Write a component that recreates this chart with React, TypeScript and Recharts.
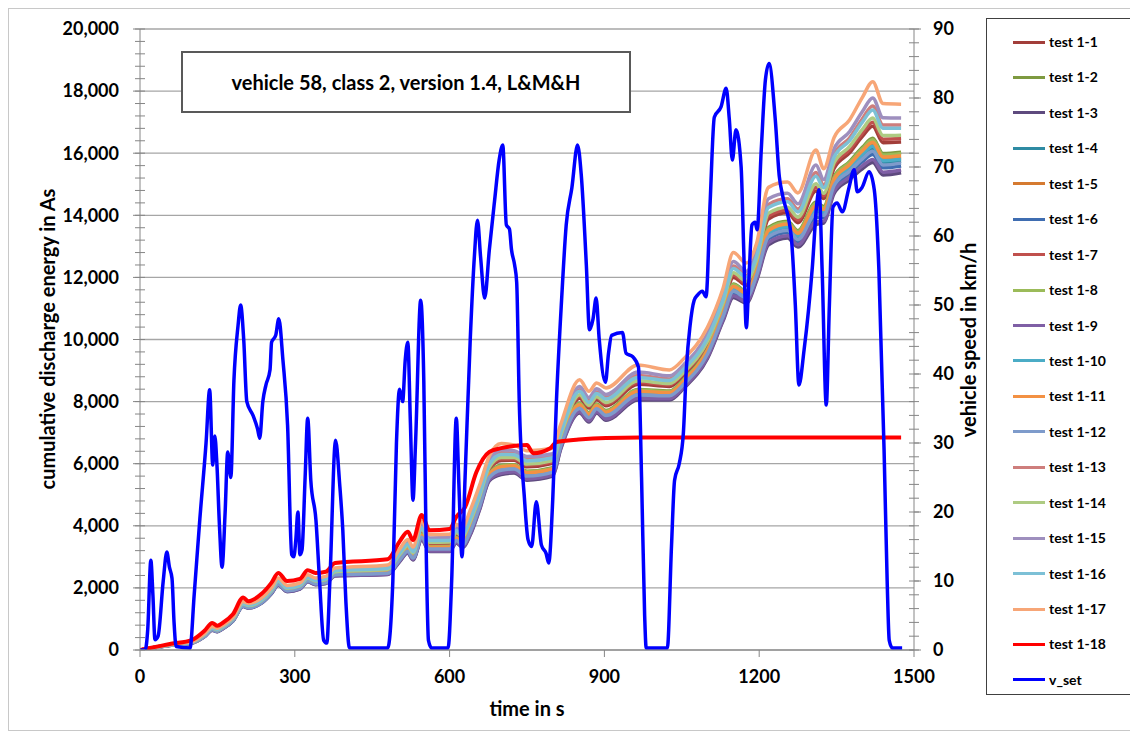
import { LineChart, Line, XAxis, YAxis, CartesianGrid } from 'recharts'

const FONT = 'Lato, "Open Sans", sans-serif'
const AXIS = '#868686'
const GRID = '#a6a6a6'

const W = 1125
const H = 721

// time grid shared by test 1-1 .. 1-17 (s)
const TIME_E = [0, 60, 100, 125, 140, 150, 160, 180, 200, 210, 235, 255, 268, 285, 310, 325, 340, 360, 378, 480, 503, 519, 529, 546, 561, 600, 613, 625, 640, 658, 677, 700, 725, 750, 800, 815, 852, 870, 885, 903, 965, 1026, 1055, 1100, 1130, 1150, 1175, 1195, 1218, 1255, 1275, 1310, 1325, 1345, 1375, 1400, 1420, 1440, 1475]

// cumulative discharge energy (As)
const test1_1 = [0, 160, 240, 480, 690, 640, 730, 980, 1470, 1420, 1580, 1910, 2190, 1970, 2050, 2300, 2200, 2240, 2500, 2570, 3020, 3320, 3090, 3810, 3420, 3420, 3720, 3590, 4060, 4870, 5810, 6100, 6110, 5900, 6010, 6810, 8110, 7790, 8070, 7870, 8560, 8490, 8880, 9850, 11070, 12000, 11750, 12440, 13880, 14080, 13760, 14780, 14540, 15510, 16010, 16540, 16870, 16340, 16360]
const test1_2 = [0, 160, 240, 460, 680, 620, 710, 970, 1450, 1400, 1550, 1880, 2160, 1940, 2020, 2270, 2170, 2210, 2460, 2520, 2960, 3250, 3030, 3720, 3340, 3340, 3630, 3500, 3940, 4750, 5690, 5950, 5970, 5760, 5870, 6690, 7950, 7640, 7920, 7710, 8390, 8340, 8740, 9700, 10920, 11790, 11560, 12260, 13610, 13810, 13500, 14420, 14280, 15240, 15730, 16190, 16480, 15990, 16030]
const test1_3 = [0, 150, 220, 430, 640, 590, 680, 930, 1400, 1350, 1500, 1820, 2090, 1880, 1960, 2200, 2100, 2140, 2380, 2430, 2840, 3120, 2900, 3540, 3170, 3170, 3450, 3300, 3700, 4510, 5450, 5650, 5700, 5470, 5600, 6450, 7630, 7340, 7630, 7400, 8050, 8050, 8450, 9400, 10600, 11350, 11170, 11900, 13050, 13270, 12980, 13700, 13750, 14700, 15150, 15500, 15700, 15300, 15370]
const test1_4 = [0, 160, 230, 450, 660, 610, 700, 950, 1430, 1380, 1530, 1850, 2130, 1910, 1990, 2240, 2140, 2180, 2420, 2480, 2910, 3190, 2970, 3640, 3260, 3270, 3550, 3410, 3840, 4640, 5590, 5820, 5850, 5630, 5750, 6590, 7810, 7510, 7790, 7580, 8240, 8210, 8610, 9570, 10780, 11600, 11390, 12100, 13360, 13580, 13280, 14110, 14050, 15010, 15480, 15890, 16140, 15690, 15740]
const test1_5 = [0, 160, 230, 450, 670, 610, 700, 960, 1440, 1380, 1540, 1860, 2140, 1920, 2000, 2250, 2150, 2190, 2440, 2500, 2930, 3220, 2990, 3670, 3290, 3290, 3580, 3440, 3880, 4680, 5630, 5870, 5900, 5680, 5800, 6630, 7870, 7560, 7840, 7630, 8300, 8260, 8660, 9620, 10830, 11670, 11450, 12160, 13460, 13670, 13360, 14230, 14140, 15100, 15570, 16010, 16270, 15810, 15860]
const test1_6 = [0, 150, 230, 440, 650, 600, 690, 940, 1420, 1370, 1520, 1840, 2110, 1900, 1980, 2220, 2120, 2160, 2410, 2460, 2880, 3160, 2940, 3600, 3230, 3230, 3510, 3370, 3780, 4590, 5530, 5750, 5790, 5570, 5690, 6530, 7740, 7440, 7730, 7500, 8160, 8150, 8550, 9500, 10710, 11500, 11300, 12020, 13240, 13450, 13150, 13940, 13930, 14880, 15340, 15730, 15960, 15530, 15590]
const test1_7 = [0, 170, 250, 480, 700, 650, 740, 990, 1480, 1430, 1590, 1920, 2210, 1980, 2060, 2310, 2210, 2260, 2510, 2590, 3050, 3340, 3110, 3850, 3450, 3450, 3750, 3630, 4100, 4910, 5850, 6150, 6150, 5950, 6050, 6850, 8170, 7840, 8120, 7920, 8620, 8540, 8930, 9900, 11130, 12080, 11820, 12500, 13980, 14170, 13850, 14900, 14630, 15600, 16110, 16650, 17000, 16450, 16470]
const test1_8 = [0, 160, 230, 460, 670, 620, 710, 960, 1440, 1390, 1550, 1870, 2150, 1940, 2020, 2260, 2160, 2200, 2450, 2520, 2950, 3240, 3020, 3710, 3320, 3330, 3620, 3480, 3920, 4730, 5670, 5930, 5950, 5740, 5850, 6670, 7930, 7620, 7900, 7690, 8370, 8320, 8720, 9680, 10890, 11760, 11530, 12240, 13570, 13770, 13470, 14370, 14240, 15200, 15690, 16140, 16430, 15940, 15990]
const test1_9 = [0, 150, 220, 430, 640, 590, 680, 930, 1410, 1360, 1510, 1830, 2100, 1890, 1970, 2210, 2110, 2150, 2390, 2440, 2860, 3140, 2920, 3560, 3190, 3190, 3470, 3330, 3730, 4540, 5480, 5690, 5740, 5510, 5640, 6480, 7670, 7380, 7670, 7440, 8100, 8090, 8490, 9440, 10640, 11410, 11220, 11950, 13120, 13340, 13050, 13800, 13820, 14770, 15230, 15590, 15800, 15390, 15460]
const test1_10 = [0, 160, 230, 450, 660, 610, 700, 950, 1430, 1380, 1530, 1860, 2140, 1920, 2000, 2240, 2140, 2190, 2430, 2490, 2920, 3210, 2980, 3660, 3280, 3280, 3570, 3430, 3860, 4670, 5610, 5850, 5880, 5660, 5780, 6610, 7840, 7540, 7820, 7610, 8280, 8240, 8640, 9600, 10810, 11640, 11430, 12140, 13420, 13630, 13330, 14180, 14100, 15060, 15530, 15960, 16220, 15760, 15810]
const test1_11 = [0, 160, 230, 460, 670, 620, 710, 960, 1440, 1390, 1540, 1870, 2150, 1930, 2010, 2260, 2160, 2200, 2450, 2510, 2940, 3230, 3010, 3690, 3310, 3310, 3600, 3460, 3900, 4710, 5650, 5900, 5930, 5710, 5830, 6650, 7900, 7590, 7870, 7660, 8330, 8290, 8690, 9650, 10860, 11710, 11490, 12200, 13510, 13720, 13420, 14300, 14190, 15150, 15630, 16080, 16350, 15880, 15920]
const test1_12 = [0, 150, 230, 440, 660, 610, 700, 950, 1420, 1370, 1520, 1850, 2120, 1910, 1990, 2230, 2130, 2170, 2420, 2470, 2900, 3180, 2960, 3630, 3250, 3250, 3530, 3390, 3810, 4620, 5560, 5790, 5830, 5600, 5730, 6560, 7780, 7480, 7770, 7550, 8210, 8190, 8580, 9540, 10750, 11550, 11350, 12070, 13310, 13520, 13220, 14040, 14000, 14950, 15420, 15820, 16060, 15620, 15680]
const test1_13 = [0, 170, 260, 500, 720, 670, 760, 1010, 1510, 1460, 1620, 1950, 2250, 2020, 2100, 2350, 2250, 2300, 2560, 2650, 3130, 3430, 3190, 3970, 3560, 3560, 3870, 3760, 4260, 5060, 6010, 6350, 6330, 6140, 6230, 7010, 8380, 8030, 8310, 8130, 8840, 8730, 9120, 10100, 11340, 12370, 12070, 12740, 14350, 14530, 14200, 15380, 14980, 15960, 16490, 17110, 17520, 16910, 16910]
const test1_14 = [0, 170, 250, 490, 710, 650, 740, 1000, 1490, 1430, 1590, 1920, 2220, 1990, 2070, 2320, 2220, 2270, 2520, 2600, 3070, 3360, 3130, 3880, 3470, 3480, 3780, 3660, 4140, 4940, 5890, 6200, 6200, 5990, 6100, 6890, 8220, 7880, 8160, 7970, 8670, 8580, 8970, 9950, 11180, 12150, 11880, 12560, 14070, 14260, 13940, 15020, 14710, 15690, 16210, 16770, 17130, 16570, 16580]
const test1_15 = [0, 170, 260, 510, 740, 680, 770, 1030, 1530, 1470, 1640, 1970, 2270, 2040, 2120, 2380, 2280, 2320, 2590, 2680, 3170, 3470, 3240, 4030, 3610, 3620, 3930, 3820, 4340, 5140, 6090, 6450, 6420, 6230, 6320, 7090, 8490, 8130, 8410, 8230, 8950, 8830, 9210, 10200, 11440, 12510, 12200, 12860, 14530, 14710, 14370, 15620, 15150, 16140, 16690, 17340, 17780, 17140, 17130]
const test1_16 = [0, 170, 250, 500, 720, 660, 750, 1010, 1500, 1450, 1610, 1940, 2240, 2010, 2090, 2340, 2240, 2290, 2550, 2630, 3110, 3410, 3170, 3940, 3530, 3530, 3840, 3720, 4220, 5020, 5970, 6300, 6290, 6090, 6190, 6970, 8330, 7980, 8260, 8080, 8780, 8680, 9070, 10050, 11280, 12290, 12010, 12680, 14250, 14440, 14110, 15260, 14890, 15870, 16400, 17000, 17390, 16800, 16800]
const test1_17 = [0, 180, 270, 530, 760, 700, 790, 1050, 1560, 1500, 1670, 2010, 2320, 2080, 2160, 2420, 2320, 2370, 2640, 2740, 3250, 3560, 3320, 4150, 3720, 3730, 4050, 3950, 4500, 5300, 6250, 6650, 6600, 6420, 6500, 7250, 8700, 8330, 8600, 8440, 9180, 9020, 9400, 10400, 11650, 12800, 12460, 13100, 14900, 15070, 14720, 16100, 15500, 16500, 17070, 17800, 18300, 17600, 17580]

// test 1-18 has its own time grid
const TIME_18 = [0, 30, 60, 100, 125, 140, 150, 160, 180, 200, 210, 235, 255, 268, 285, 310, 325, 340, 360, 378, 480, 503, 519, 529, 546, 561, 600, 613, 630, 652, 677, 700, 750, 762, 795, 807, 850, 903, 968, 1475]
const test1_18 = [0, 100, 200, 320, 620, 870, 780, 870, 1150, 1690, 1570, 1800, 2170, 2480, 2220, 2290, 2570, 2480, 2520, 2800, 2920, 3490, 3810, 3540, 4350, 3860, 3900, 4290, 4600, 5730, 6380, 6500, 6600, 6340, 6500, 6700, 6780, 6830, 6840, 6840]

// vehicle speed set point (km/h)
const TIME_V = [0, 10, 15, 21, 25, 29, 35, 45, 52, 57, 62, 66, 70, 97, 105, 116, 128, 135, 141, 145, 149, 154, 159, 165, 170, 176, 182, 190, 195, 201, 207, 219, 228, 232, 238, 244, 252, 255, 263, 269, 277, 286, 294, 298, 302, 306, 310, 314, 320, 325, 331, 341, 348, 356, 362, 368, 379, 387, 393, 399, 406, 480, 490, 497, 503, 509, 514, 519, 524, 529, 534, 544, 550, 555, 559, 565, 597, 604, 613, 618, 624, 630, 640, 648, 654, 660, 668, 677, 687, 696, 703, 710, 716, 720, 726, 730, 735, 745, 752, 759, 768, 778, 787, 792, 800, 807, 817, 826, 837, 848, 855, 865, 871, 878, 884, 890, 902, 908, 914, 935, 942, 955, 966, 972, 978, 981, 1022, 1030, 1036, 1045, 1053, 1059, 1066, 1074, 1080, 1090, 1097, 1105, 1113, 1126, 1136, 1142, 1148, 1155, 1165, 1170, 1175, 1180, 1186, 1192, 1196, 1204, 1212, 1219, 1231, 1239, 1245, 1262, 1270, 1277, 1287, 1303, 1312, 1316, 1322, 1330, 1336, 1343, 1351, 1361, 1374, 1384, 1390, 1399, 1413, 1423, 1432, 1442, 1448, 1452, 1458, 1477]
const V_SET = [0, 0, 3, 13, 8, 1.5, 2, 10, 14.2, 12, 10.4, 4, 0.5, 0.3, 8, 19, 30, 37.7, 26.8, 31, 27, 18, 12, 20, 28.7, 25, 39, 47, 50, 45, 36, 34, 32, 30.7, 36, 38.4, 40.6, 44.6, 45.6, 48, 42, 32.6, 13.8, 13.5, 16, 20, 13.8, 14.5, 25, 33.6, 24.6, 18.8, 10, 1.4, 1, 10, 30.4, 24, 17.4, 7, 0.3, 0.3, 10, 30, 37.8, 36, 42, 44.6, 33, 21.7, 30, 50.7, 39, 13, 1.4, 0.3, 0.3, 10, 33.6, 24, 13.5, 25, 45, 57, 62.3, 57, 51, 58, 65, 71, 73.2, 61.6, 61, 58, 55.8, 53.3, 36, 22, 16, 15, 21.5, 15.2, 14, 12.6, 22, 36, 50.7, 61.6, 67, 73.2, 69, 55.8, 46.4, 48, 51, 45, 38.8, 43, 45.6, 46, 43, 42.5, 41, 25, 5, 0.3, 0.3, 15, 24.6, 27, 31.4, 41, 47, 50.7, 51.4, 52, 51.2, 65, 77.2, 78.7, 81.4, 77, 71, 75.4, 70, 58, 46.7, 53.6, 61.6, 62, 60.9, 72.5, 82.6, 85, 77, 68.6, 66, 60, 50, 38.4, 43.5, 55.5, 65, 66.7, 55, 35.5, 50, 64.2, 64.8, 63.5, 67, 69.6, 66.4, 67, 69.3, 66.7, 55, 29, 10, 1.4, 0.3, 0.3]

const X_TICKS = [0, 300, 600, 900, 1200, 1500]
const X_MINOR = [0, 60, 120, 180, 240, 300, 360, 420, 480, 540, 600, 660, 720, 780, 840, 900, 960, 1020, 1080, 1140, 1200, 1260, 1320, 1380, 1440, 1500]
const E_TICKS = [0, 2000, 4000, 6000, 8000, 10000, 12000, 14000, 16000, 18000, 20000]
const E_MINOR = [0, 400, 800, 1200, 1600, 2000, 2400, 2800, 3200, 3600, 4000, 4400, 4800, 5200, 5600, 6000, 6400, 6800, 7200, 7600, 8000, 8400, 8800, 9200, 9600, 10000, 10400, 10800, 11200, 11600, 12000, 12400, 12800, 13200, 13600, 14000, 14400, 14800, 15200, 15600, 16000, 16400, 16800, 17200, 17600, 18000, 18400, 18800, 19200, 19600, 20000]
const V_TICKS = [0, 10, 20, 30, 40, 50, 60, 70, 80, 90]
const V_MINOR = [0, 2, 4, 6, 8, 10, 12, 14, 16, 18, 20, 22, 24, 26, 28, 30, 32, 34, 36, 38, 40, 42, 44, 46, 48, 50, 52, 54, 56, 58, 60, 62, 64, 66, 68, 70, 72, 74, 76, 78, 80, 82, 84, 86, 88, 90]

const TESTS = [
  { name: 'test 1-1', color: '#A23E3A', values: test1_1 },
  { name: 'test 1-2', color: '#7E9A40', values: test1_2 },
  { name: 'test 1-3', color: '#5E4A7E', values: test1_3 },
  { name: 'test 1-4', color: '#2E8BA3', values: test1_4 },
  { name: 'test 1-5', color: '#D57A30', values: test1_5 },
  { name: 'test 1-6', color: '#3F6DB1', values: test1_6 },
  { name: 'test 1-7', color: '#C0504D', values: test1_7 },
  { name: 'test 1-8', color: '#9BBB59', values: test1_8 },
  { name: 'test 1-9', color: '#7F5FA5', values: test1_9 },
  { name: 'test 1-10', color: '#4BACC6', values: test1_10 },
  { name: 'test 1-11', color: '#F39143', values: test1_11 },
  { name: 'test 1-12', color: '#7E9BCB', values: test1_12 },
  { name: 'test 1-13', color: '#CE7E7C', values: test1_13 },
  { name: 'test 1-14', color: '#AECB82', values: test1_14 },
  { name: 'test 1-15', color: '#9E8FBE', values: test1_15 },
  { name: 'test 1-16', color: '#7CC0D6', values: test1_16 },
  { name: 'test 1-17', color: '#F7A677', values: test1_17 },
]
const RED = '#FF0000'
const BLUE = '#0000FF'

const LEGEND = [
  ...TESTS.map(s => ({ name: s.name, color: s.color })),
  { name: 'test 1-18', color: RED },
  { name: 'v_set', color: BLUE },
]

const tickFont = { fill: '#000', fontSize: 18, fontWeight: 700, fontFamily: FONT }

// small cross ticks on the axis lines (Excel "cross" tick marks)
const CrossX = ({ x, y }: any) => <line x1={x} x2={x} y1={y - 5} y2={y + 5} stroke={AXIS} strokeWidth={1} />
const CrossY = ({ x, y }: any) => <line x1={x - 5} x2={x + 5} y1={y} y2={y} stroke={AXIS} strokeWidth={1} />

export default function App() {
  return (
    <div style={{ position: 'relative', width: W, height: H, border: '1px solid #c8c8c8', background: '#fff', fontFamily: FONT }}>
      <LineChart width={W} height={H} margin={{ top: 20, right: 140, bottom: 20, left: 0 }}>
        <CartesianGrid xAxisId="x" yAxisId="left" vertical={false} stroke={GRID} strokeWidth={1.3} horizontalValues={E_TICKS} />
        <XAxis
          xAxisId="x" type="number" dataKey="t" domain={[0, 1500]} ticks={X_TICKS} interval={0}
          height={60} tickSize={7} tickMargin={13} tick={tickFont}
          axisLine={{ stroke: AXIS }} tickLine={{ stroke: AXIS }} allowDataOverflow
        />
        <XAxis
          xAxisId="xm" type="number" domain={[0, 1500]} ticks={X_MINOR} interval={0} mirror
          tickSize={0} tickMargin={0} axisLine={false} tickLine={false} tick={<CrossX />} allowDataOverflow
        />
        <YAxis
          yAxisId="left" type="number" domain={[0, 20000]} ticks={E_TICKS} interval={0} width={131}
          tickSize={7} tickMargin={14} tick={tickFont} tickFormatter={v => v.toLocaleString('en-US')}
          axisLine={{ stroke: AXIS }} tickLine={{ stroke: AXIS }} allowDataOverflow
        />
        <YAxis
          yAxisId="lm" type="number" domain={[0, 20000]} ticks={E_MINOR} interval={0} mirror
          tickSize={0} tickMargin={0} axisLine={false} tickLine={false} tick={<CrossY />} allowDataOverflow
        />
        <YAxis
          yAxisId="right" orientation="right" type="number" domain={[0, 90]} ticks={V_TICKS} interval={0} width={80}
          tickSize={7} tickMargin={12} tick={tickFont}
          axisLine={{ stroke: AXIS }} tickLine={{ stroke: AXIS }} allowDataOverflow
        />
        <YAxis
          yAxisId="rm" orientation="right" type="number" domain={[0, 90]} ticks={V_MINOR} interval={0} mirror
          tickSize={0} tickMargin={0} axisLine={false} tickLine={false} tick={<CrossY />} allowDataOverflow
        />

        {TESTS.map(s => (
          <Line
            key={s.name}
            xAxisId="x" yAxisId="left"
            data={TIME_E.map((t, i) => ({ t, e: s.values[i] }))}
            dataKey="e" name={s.name}
            type="monotone" stroke={s.color} strokeWidth={3.5}
            dot={false} activeDot={false} isAnimationActive={false}
          />
        ))}
        <Line
          xAxisId="x" yAxisId="left"
          data={TIME_18.map((t, i) => ({ t, e: test1_18[i] }))}
          dataKey="e" name="test 1-18"
          type="monotone" stroke={RED} strokeWidth={4}
          dot={false} activeDot={false} isAnimationActive={false}
        />
        <Line
          xAxisId="x" yAxisId="right"
          data={TIME_V.map((t, i) => ({ t, v: V_SET[i] }))}
          dataKey="v" name="v_set"
          type="monotone" stroke={BLUE} strokeWidth={3.5}
          dot={false} activeDot={false} isAnimationActive={false}
        />
      </LineChart>

      {/* axis titles */}
      <svg width={W} height={H} style={{ position: 'absolute', left: 0, top: 0, pointerEvents: 'none' }}>
        <text x={38} y={330} transform="rotate(-90 38 330)" textAnchor="middle" dominantBaseline="central"
          fontSize={20} fontWeight={700} fontFamily={FONT} fill="#000">cumulative discharge energy in As</text>
        <text x={959} y={331} transform="rotate(-90 959 331)" textAnchor="middle" dominantBaseline="central"
          fontSize={20} fontWeight={700} fontFamily={FONT} fill="#000">vehicle speed in km/h</text>
        <text x={518} y={699} textAnchor="middle" dominantBaseline="central"
          fontSize={20} fontWeight={700} fontFamily={FONT} fill="#000">time in s</text>
      </svg>

      {/* title box */}
      <div style={{
        position: 'absolute', left: 172, top: 42, width: 446, height: 58,
        border: '2px solid #595959', background: '#fff',
        display: 'flex', alignItems: 'center', justifyContent: 'center',
        fontSize: 20, fontWeight: 700, color: '#000',
      }}>
        vehicle 58, class 2, version 1.4, L&amp;M&amp;H
      </div>

      {/* legend */}
      <div style={{
        position: 'absolute', left: 977, top: 9, width: 145, height: 675,
        border: '1px solid #404040', background: '#fff',
      }}>
        {LEGEND.map((it, i) => (
          <div key={it.name} style={{ position: 'absolute', left: 0, top: 23 + i * 35.44 - 10, height: 20, width: 145 }}>
            <div style={{ position: 'absolute', left: 26, top: 8.5, width: 32, height: 3, background: it.color }} />
            <div style={{ position: 'absolute', left: 62, top: 0, lineHeight: '20px', fontSize: 14, fontWeight: 700, color: '#000', whiteSpace: 'nowrap' }}>
              {it.name}
            </div>
          </div>
        ))}
      </div>
    </div>
  )
}
